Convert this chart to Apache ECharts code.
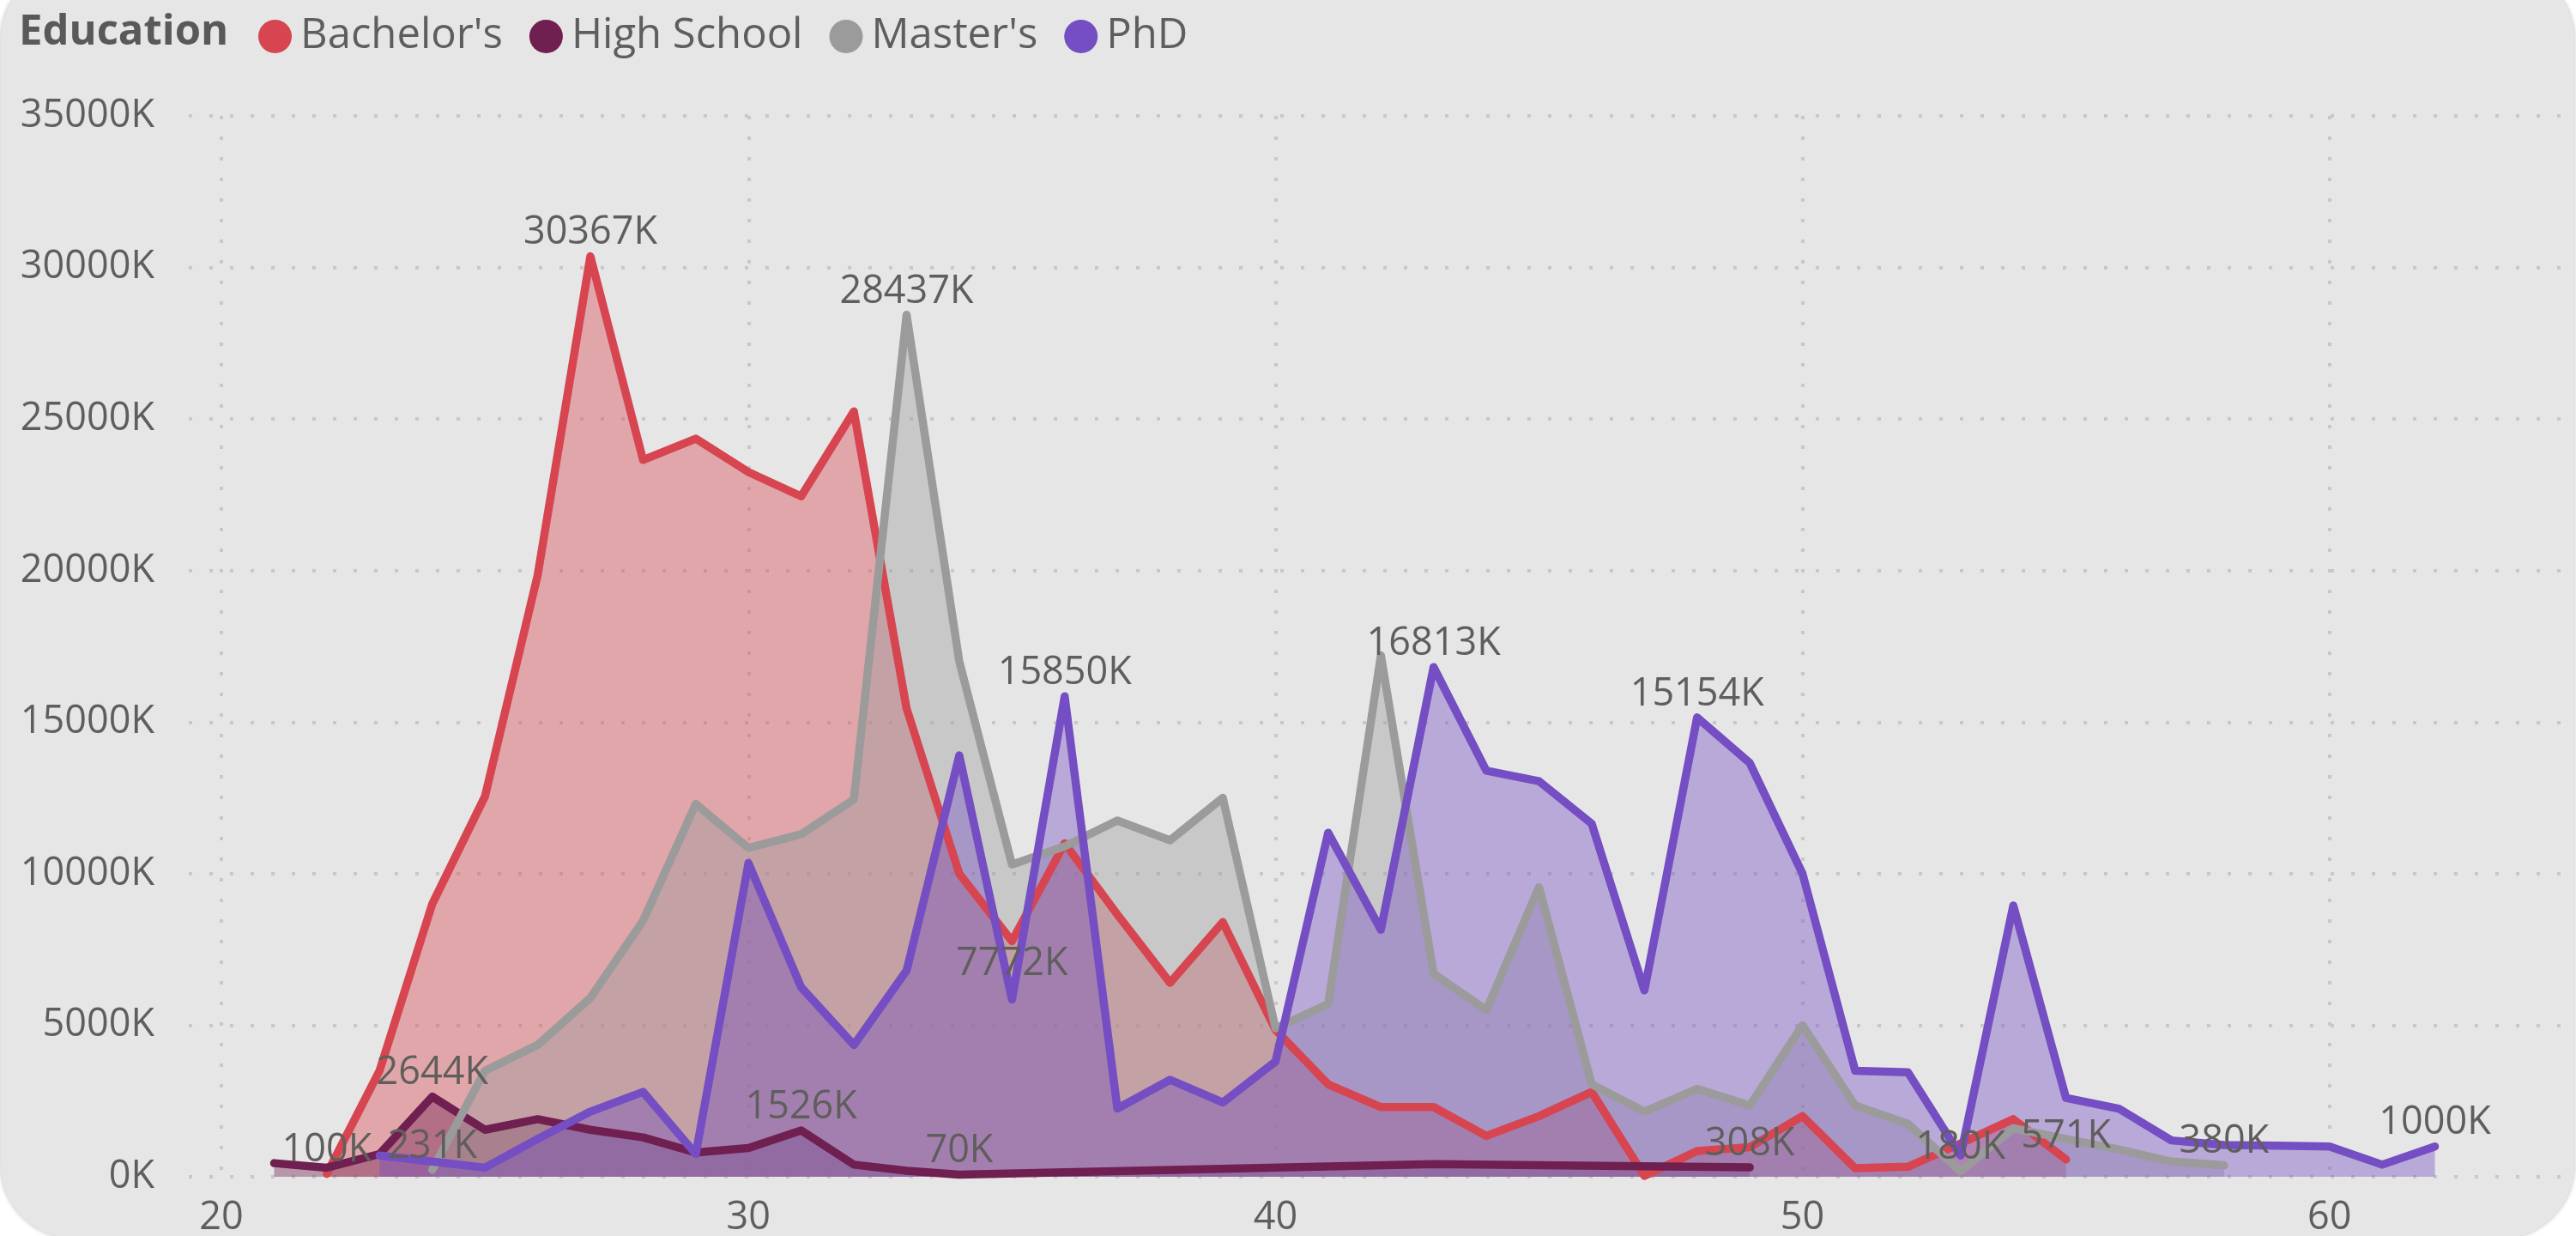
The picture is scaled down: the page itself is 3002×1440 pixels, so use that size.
<!DOCTYPE html>
<html>
<head>
<meta charset="utf-8">
<script src="https://cdn.jsdelivr.net/npm/echarts@6/dist/echarts.min.js"></script>
<style>
  html, body { margin: 0; padding: 0; background: #ffffff; width: 3002px; height: 1440px; overflow: hidden; }
  #card { position: absolute; left: 1px; top: -40px; width: 2999px; height: 1483px; background: #e6e6e6;
          border-radius: 86px; box-shadow: 0 0 5px rgba(0,0,0,0.28); }
  #main { position: absolute; left: 0; top: 0; width: 3002px; height: 1440px; }
</style>
</head>
<body>
<div id="card"></div>
<div id="main"></div>
<script>
    // age values (x) and counts in K (y)
    var bachelorAges = [22,23,24,25,26,27,28,29,30,31,32,33,34,35,36,37,38,39,40,41,42,43,44,45,46,47,48,49,50,51,52,53,54,55];
    var bachelorVals = [100,3500,9000,12550,19850,30367,23650,24350,23250,22450,25250,15450,10000,7772,11000,8650,6400,8400,4850,3050,2300,2300,1350,2000,2800,30,850,980,2000,280,330,1100,1900,571];

    var highSchoolAges = [21,22,23,24,25,26,27,28,29,30,31,32,33,34,43,49];
    var highSchoolVals = [450,300,750,2644,1550,1900,1550,1300,800,950,1526,400,200,70,420,308];

    var masterAges = [24,25,26,27,28,29,30,31,32,33,34,35,36,37,38,39,40,41,42,43,44,45,46,47,48,49,50,51,52,53,54,55,56,57,58];
    var masterVals = [231,3500,4350,5900,8450,12300,10850,11300,12450,28437,17000,10300,10900,11750,11100,12500,4900,5700,17200,6700,5500,9550,3050,2150,2900,2350,5000,2350,1750,180,1600,1250,900,500,380];

    var phdAges = [23,24,25,26,27,28,29,30,31,32,33,34,35,36,37,38,39,40,41,42,43,44,45,46,47,48,49,50,51,52,53,54,55,56,57,58,59,60,61,62];
    var phdVals = [700,500,300,1250,2150,2800,750,10350,6250,4350,6800,13900,5850,15850,2250,3200,2450,3800,11350,8150,16813,13400,13050,11650,6150,15154,13650,10000,3500,3450,700,8950,2600,2250,1200,1050,1030,1000,400,1000];

    // ages whose value carries a data label
    var bachelorLabels = [22,27,35,55];
    var highSchoolLabels = [24,31,34,49];
    var masterLabels = [24,33,53,58];
    var phdLabels = [36,43,48,62];
    var bachelorLabelsBelow = [35];

    var seriesNames = ["Bachelor's", "High School", "Master's", "PhD"];
    var seriesColors = ['#d64550', '#701f51', '#9b9b9b', '#744ec2'];

    var xTicks = [20,30,40,50,60];

    var textColor = '#605e5c';
    var fontFamily = '"Segoe UI", "Open Sans", sans-serif';

    //组装一条序列的数据
    function buildData(ages, vals, labelAges, belowAges){
        var out = [];
        ages.forEach(function(a, i){
            var item = { value: [a, vals[i]] };
            if (labelAges.indexOf(a) >= 0) {
                item.label = {
                    show: true,
                    position: belowAges.indexOf(a) >= 0 ? 'bottom' : 'top'
                };
            }
            out.push(item);
        });
        return out;
    }

    var chart = echarts.init(document.getElementById('main'), null, { renderer: 'canvas' });

    var allData = [
        buildData(bachelorAges, bachelorVals, bachelorLabels, bachelorLabelsBelow),
        buildData(highSchoolAges, highSchoolVals, highSchoolLabels, []),
        buildData(masterAges, masterVals, masterLabels, []),
        buildData(phdAges, phdVals, phdLabels, [])
    ];

    var series = [];
    // areas first
    allData.forEach(function(d, i){
        series.push({
            name: seriesNames[i],
            type: 'line',
            data: d.map(function(it){ return it.value; }),
            showSymbol: false,
            silent: true,
            z: 2,
            color: seriesColors[i],
            lineStyle: { width: 0 },
            areaStyle: { color: seriesColors[i], opacity: 0.4 }
        });
    });
    // lines above all areas
    allData.forEach(function(d, i){
        series.push({
            name: seriesNames[i],
            type: 'line',
            data: d,
            symbol: 'circle',
            symbolSize: 1,
            z: 3,
            color: seriesColors[i],
            lineStyle: { width: 9.5, color: seriesColors[i], cap: 'round', join: 'round' },
            label: {
                show: false,
                distance: 4,
                color: textColor,
                fontSize: 45,
                fontFamily: fontFamily,
                formatter: function(p){ return p.value[1] + 'K'; }
            }
        });
    });

    chart.setOption({
        animation: false,
        backgroundColor: 'transparent',
        title: {
            text: 'Education',
            left: 22,
            top: 10,
            padding: 0,
            textStyle: { fontSize: 49, fontWeight: 'bold', color: '#5a5957', fontFamily: fontFamily, lineHeight: 56 }
        },
        legend: {
            data: seriesNames,
            left: 301,
            top: 18,
            padding: 0,
            icon: 'circle',
            itemWidth: 49,
            itemHeight: 39,
            itemGap: 31,
            textStyle: { fontSize: 49, color: textColor, fontFamily: fontFamily }
        },
        grid: { left: 220, right: 17, top: 135, bottom: 69, containLabel: false, outerBoundsMode: 'none' },
        xAxis: {
            type: 'value',
            min: 19.38,
            max: 64.4,
            axisLine: { show: false },
            axisTick: { show: false, customValues: xTicks },
            axisLabel: { customValues: xTicks, fontSize: 45, color: textColor, fontFamily: fontFamily, margin: 26 },
            splitLine: { show: true, lineStyle: { color: '#c8c8c8', width: 4, type: [4, 20] } }
        },
        yAxis: {
            type: 'value',
            min: 0,
            max: 35000,
            interval: 5000,
            axisLine: { show: false },
            axisTick: { show: false },
            axisLabel: {
                formatter: function(v){ return v + 'K'; },
                fontSize: 45, color: textColor, fontFamily: fontFamily, margin: 40
            },
            splitLine: { show: true, lineStyle: { color: '#c8c8c8', width: 4, type: [4, 20] } }
        },
        series: series
    });
</script>
</body>
</html>
